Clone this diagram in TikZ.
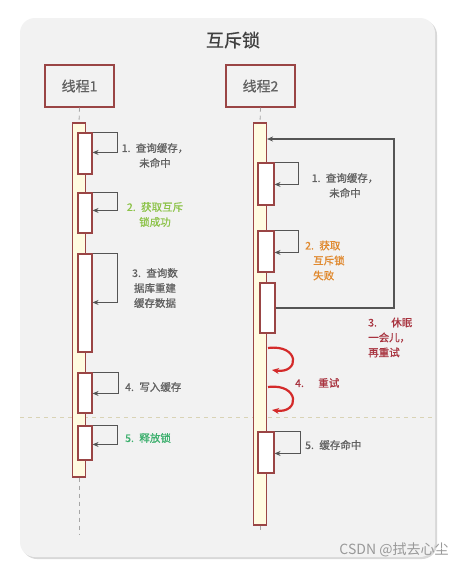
\documentclass[tikz,border=0pt]{standalone}
\usepackage{fontspec}
\setmainfont{Noto Sans CJK SC}
\newfontfamily\labfont[FakeBold=0.8]{Noto Sans CJK SC}
\usetikzlibrary{arrows.meta}
\definecolor{bord}{HTML}{9A4545}
\definecolor{barfill}{HTML}{FFFBE0}
\definecolor{arrgray}{HTML}{555555}
\definecolor{txtgray}{HTML}{606060}
\definecolor{lgreen}{HTML}{8DC34A}
\definecolor{tgreen}{HTML}{3DB06E}
\definecolor{orng}{HTML}{E0892E}
\definecolor{dred}{HTML}{A8323E}
\definecolor{bred}{HTML}{D42A2A}
\definecolor{panelbg}{HTML}{F2F2F2}
\definecolor{panelsh}{HTML}{D8D8D8}
\definecolor{sepcol}{HTML}{D9D3B5}
\newcommand\nm[1]{\makebox[1.35em][l]{#1.}}
\newcommand\nmw[1]{\makebox[2.2em][l]{#1.}}
\begin{document}
\begin{tikzpicture}[x=1pt,y=-1pt,
  thread/.style={draw=bord, line width=1.4pt, fill=panelbg, minimum width=69pt, minimum height=42pt, inner sep=0pt, font=\fontsize{14}{16}\selectfont\labfont, text=txtgray},
  bar/.style={draw=bord, line width=1.1pt, fill=barfill, minimum width=13pt, inner sep=0pt},
  inbox/.style={draw=bord, line width=1.1pt, fill=white, inner sep=0pt},
  selfarr/.style={draw=arrgray, line width=1.3pt, -{Stealth[length=6pt,width=5pt]}},
  life/.style={draw=gray!70, line width=0.8pt, dash pattern=on 4pt off 4pt},
  redarr/.style={draw=bred, line width=2.2pt, -{Stealth[length=7pt,width=6pt]}},
  lab/.style={font=\fontsize{10.5}{15}\selectfont\labfont, inner sep=0pt},
]
\useasboundingbox (0,0) rectangle (471,568);
\fill[white] (0,0) rectangle (471,568);
% panel
\fill[panelsh, rounded corners=15pt] (22,20) rectangle (437,559);
\fill[panelbg, rounded corners=15pt] (20,18) rectangle (435,557);
\node[font=\fontsize{18}{20}\selectfont\labfont, text=black!75] (title) at (233,40) {互斥锁};
% separator
\draw[sepcol, line width=1pt, dash pattern=on 4pt off 4pt] (20,417) -- (433,417);
% threads
\node[thread] (t1) at (79.5,86) {线程1};
\node[thread] (t2) at (260.5,86) {线程2};
% bars
\node[bar, minimum height=354pt] (bar1) at (79,300) {};
\node[bar, minimum height=402pt] (bar2) at (260,324) {};
\coordinate (e1) at (79,535);
\coordinate (e2) at (260,532);
\draw[life] (t1.south) -- (bar1.north);
\draw[life] (t2.south) -- (bar2.north);
\draw[life] (bar1.south) -- (e1);
\draw[life] (bar2.south) -- (e2);
% thread 1 boxes
\node[inbox, minimum width=14pt, minimum height=41pt] (a1) at (85,153.5) {};
\node[inbox, minimum width=14pt, minimum height=40pt] (a2) at (85,213) {};
\node[inbox, minimum width=14pt, minimum height=98pt] (a3) at (85,303) {};
\node[inbox, minimum width=14pt, minimum height=40pt] (a4) at (85,393) {};
\node[inbox, minimum width=14pt, minimum height=34pt] (a5) at (85,443) {};
\draw[selfarr] (a1.north east) -- ++(25,0) -- ++(0,20) -- ++(-25,0);
\draw[selfarr] (a2.north east) -- ++(25,0) -- ++(0,18) -- ++(-25,0);
\draw[selfarr] (a3.north east) -- ++(25,0) -- ++(0,49) -- ++(-25,0);
\draw[selfarr] (a4.north east) -- ++(26,0) -- ++(0,21) -- ++(-26,0);
\draw[selfarr] (a5.north east) -- ++(25,0) -- ++(0,19) -- ++(-25,0);
% thread 1 labels
\node[lab, align=center, text=txtgray] (l1) at (155,155.5) {\nm{1}查询缓存，\\未命中};
\node[lab, align=center, text=lgreen] (l2) at (155,214.5) {\nm{2}获取互斥\\锁成功};
\node[lab, align=center, text=txtgray] (l3) at (155,288) {\nm{3}查询数\\据库重建\\缓存数据};
\node[lab, anchor=west, text=txtgray] (l4) at (125,387) {\nm{4}写入缓存};
\node[lab, anchor=west, text=tgreen] (l5) at (125,438) {\nm{5}释放锁};
% thread 2 boxes
\node[inbox, minimum width=16pt, minimum height=42pt] (b1) at (266,184) {};
\node[inbox, minimum width=16pt, minimum height=41pt] (b2) at (266,251.5) {};
\node[inbox, minimum width=15pt, minimum height=50pt] (b3) at (267.5,308) {};
\node[inbox, minimum width=16pt, minimum height=41pt] (b5) at (266,452.5) {};
\draw[selfarr] (b1.north east) -- ++(24,0) -- ++(0,22) -- ++(-24,0);
\draw[selfarr] (b2.north east) -- ++(24,0) -- ++(0,22) -- ++(-24,0);
\draw[selfarr] (b5.north east) -- ++(26,0) -- ++(0,22) -- ++(-26,0);
% big loop
\coordinate (loopc) at (394,139);
\draw[selfarr, line width=1.1pt] (b3.east) -| (loopc) -- (bar2.east |- loopc);
% red retry arrows
\coordinate (r1s) at (268,348);
\coordinate (r1e) at (272,370);
\coordinate (r2s) at (268,387);
\coordinate (r2e) at (272,410);
\draw[redarr] (r1s) .. controls (300,344) and (300,374) .. (r1e);
\draw[redarr] (r2s) .. controls (300,383) and (300,414) .. (r2e);
% thread 2 labels
\node[lab, align=center, text=txtgray] (m1) at (345,185.5) {\nm{1}查询缓存，\\未命中};
\node[lab, align=left, anchor=west, text=orng] (m2) at (305,260.5) {\nm{2}获取\\\hspace*{8pt}互斥锁\\\hspace*{8pt}失败};
\node[lab, align=left, anchor=west, text=dred] (m3) at (368,337.5) {\nmw{3}休眠\\一会儿，\\再重试};
\node[lab, anchor=west, text=dred] (m4) at (295,383) {\nmw{4}重试};
\node[lab, anchor=west, text=txtgray] (m5) at (305,445) {\nm{5}缓存命中};
% watermark
\node[font=\fontsize{14}{16}\selectfont, text=gray!80, inner sep=0pt] (wm) at (394,550) {CSDN @拭去心尘};
\end{tikzpicture}
\end{document}
